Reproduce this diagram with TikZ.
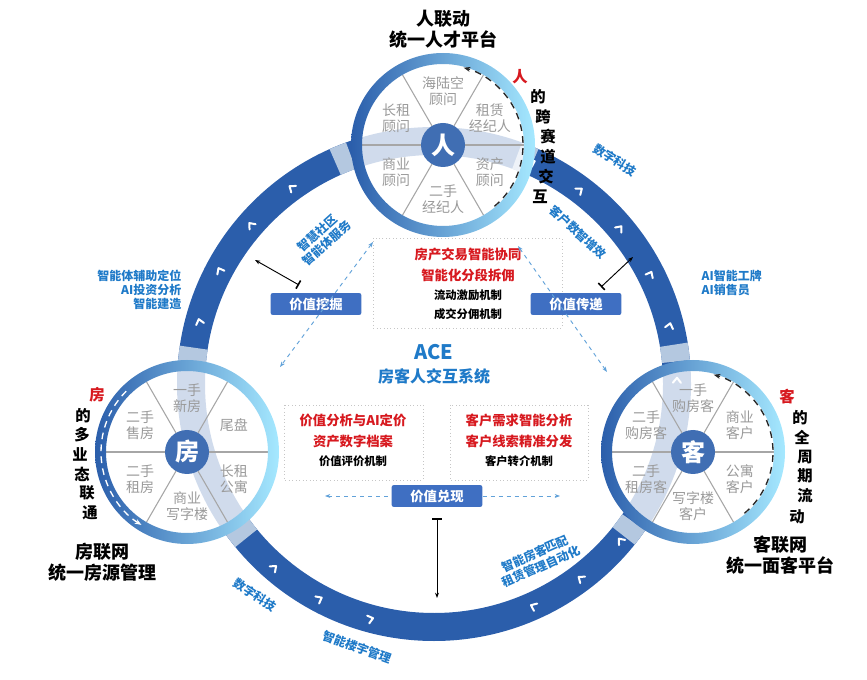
\documentclass[tikz,border=0pt]{standalone}
\usepackage{fontspec}
\setmainfont{Noto Sans CJK SC}
\usetikzlibrary{arrows.meta,calc}
\definecolor{ringblue}{HTML}{2B5EAB}
\definecolor{lightring}{HTML}{B4C8E0}
\definecolor{txtblue}{HTML}{1F7AC8}
\definecolor{segtxt}{HTML}{9A9A9A}
\definecolor{redt}{HTML}{D7191F}
\definecolor{boxblue}{HTML}{3F6FC2}
\tikzset{
 seg/.style={text=segtxt,font=\fontsize{10.5}{12}\selectfont,align=center},
 head/.style={font=\bfseries\fontsize{13.5}{16}\selectfont,align=center},
 redl/.style={text=redt,font=\bfseries\fontsize{10}{12}\selectfont},
 blkl/.style={text=black,font=\bfseries\fontsize{8.5}{10}\selectfont},
 bluel/.style={text=txtblue,font=\bfseries\fontsize{9}{10.5}\selectfont,align=center},
 vbox/.style={fill=boxblue,text=white,font=\bfseries\fontsize{10}{12}\selectfont,minimum width=68pt,minimum height=16pt,rounded corners=1.5pt},
 dotbox/.style={draw=gray!45,dotted,line width=0.6pt},
 dashl/.style={draw=txtblue!70,dashed,line width=0.7pt},
 dblarr/.style={dashl,{Stealth[length=4pt]}-{Stealth[length=4pt]}},
 tbar/.style={draw=black,line width=0.7pt,{Stealth[length=4pt]}-{Bar[width=7pt,line width=1.2pt]}},
 chev/.style={draw=white,line width=1.5pt,line cap=round,line join=round},
 vt/.style={font=\bfseries\fontsize{11.5}{13}\selectfont},
}
\begin{document}
\begin{tikzpicture}[x=0.75pt,y=-0.75pt]
\useasboundingbox (0,0) rectangle (867,680);
\coordinate (C) at (434,384);
\draw[ringblue,line width=21pt] (C) circle (243);
\foreach \a in {270,164.6,14.7}{
  \draw[lightring,line width=21pt] (C) ++(\a+20:243) arc[start angle=\a+20,end angle=\a+24,radius=243];
  \draw[lightring,line width=21pt] (C) ++(\a-20:243) arc[start angle=\a-20,end angle=\a-24,radius=243];
}
\foreach \a/\d in {195/1,208/1,221/1,234/1,294/-1,307/-1,320/-1,333/-1,346/-1,359/-1,
                   40/-1,53/-1,66/-1,105/1,118/1,131/1}{
  \begin{scope}[shift={($(C)+(\a:243)$)},rotate=\a]
   \draw[chev] (-4,-3*\d) -- (0,2*\d) -- (4,-3*\d);
  \end{scope}
}
\foreach \n/\x/\y/\hub in {P/443/145/人,F/187/452/房,K/693/452/客}{
  \coordinate (\n) at (\x,\y);
  \fill[white,opacity=0.78] (\n) circle (82);
  \foreach \l in {0,60,...,300} \draw[gray!70,line width=0.8pt] (\n) -- ++(\l:81);
  \shade[left color=ringblue,right color=blue!25!cyan!35,even odd rule] (\n) circle (92) (\n) circle (81);
  \node[circle,fill=ringblue!90,minimum size=33pt,inner sep=0pt,text=white,font=\bfseries\fontsize{18}{18}\selectfont] (\n hub) at (\n) {\hub};
}
\foreach \a/\t in {270/{海陆空\\顾问},330/{租赁\\经纪人},30/{资产\\顾问},90/{二手\\经纪人},150/{商业\\顾问},210/{长租\\顾问}}
  \node[seg] at ($(P)+(\a:54)$) {\t};
\foreach \a/\t in {270/{一手\\新房},330/{尾盘},30/{长租\\公寓},90/{商业\\写字楼},150/{二手\\租房},210/{二手\\售房}}
  \node[seg] at ($(F)+(\a:54)$) {\t};
\foreach \a/\t in {270/{一手\\购房客},330/{商业\\客户},30/{公寓\\客户},90/{写字楼\\客户},150/{二手\\租房客},210/{二手\\购房客}}
  \node[seg] at ($(K)+(\a:54)$) {\t};
\draw[gray!30!black,line width=1pt,dash pattern=on 5pt off 4pt,-{Stealth[length=5pt]}] (P) ++(50:80) arc[start angle=50,end angle=-75,radius=80];
\draw[gray!30!black,line width=1pt,dash pattern=on 5pt off 4pt,-{Stealth[length=5pt]}] (K) ++(50:80) arc[start angle=50,end angle=-75,radius=80];
\draw[white,line width=1pt,dash pattern=on 5pt off 4pt,-{Stealth[length=5pt]}] (F) ++(225:86) arc[start angle=225,end angle=122,radius=86];
\node[head] (hP) at (443,29) {人联动\\统一人才平台};
\node[head] (hF) at (102,562) {房联网\\统一房源管理};
\node[head] (hK) at (780,555) {客联网\\统一面客平台};
\node[vt,text=redt] at (520,77) {人};
\foreach \x/\y/\c in {538/97/的,543/117/跨,548/137/赛,548/157/道,546/177/交,540/197/互} \node[vt] at (\x,\y) {\c};
\node[vt,text=redt] at (787,397) {客};
\foreach \x/\y/\c in {800/418/的,802/437/全,805/457/周,805/476/期,805/496/流,797/517/动} \node[vt] at (\x,\y) {\c};
\node[vt,text=redt] at (97,395) {房};
\foreach \x/\y/\c in {83/416/的,82/435/多,80/454/业,82/474/态,87/493/联,90/513/通} \node[vt] at (\x,\y) {\c};
\node[bluel,rotate=42] at (322,238) {智慧社区\\智能体服务};
\node[bluel,rotate=-32] at (615,160) {数字科技};
\node[bluel,rotate=-42] at (578,232) {客户数智增效};
\node[bluel,align=right,anchor=east] at (186,290) {智能体辅助定位\\AI投资分析\\智能建造};
\node[bluel,align=left,anchor=west] at (697,283) {AI智能工牌\\AI销售员};
\node[bluel,rotate=-33] at (255,595) {数字科技};
\node[bluel,rotate=-20] at (357,647) {智能楼宇管理};
\node[bluel,rotate=24] at (538,560) {智能房客匹配\\租赁管理自动化};
\draw[dotbox] (373,238) rectangle (562,328);
\node[redl] at (468,254) {房产交易智能协同};
\node[redl] at (468,275) {智能化分段拆佣};
\node[blkl] at (468,295) {流动激励机制};
\node[blkl] at (468,314) {成交分佣机制};
\node[text=txtblue,font=\bfseries\fontsize{15}{16}\selectfont] at (434,352) {ACE};
\node[text=txtblue,font=\bfseries\fontsize{12}{14}\selectfont] at (434,376) {房客人交互系统};
\draw[dotbox] (284,405) rectangle (423,480);
\node[redl] at (353,420) {价值分析与AI定价};
\node[redl] at (353,441) {资产数字档案};
\node[blkl] at (353,461) {价值评价机制};
\draw[dotbox] (450,405) rectangle (588,480);
\node[redl] at (519,420) {客户需求智能分析};
\node[redl] at (519,441) {客户线索精准分发};
\node[blkl] at (519,461) {客户转介机制};
\node[vbox] (v1) at (316,304) {价值挖掘};
\node[vbox] (v2) at (576,304) {价值传递};
\node[vbox] (v3) at (437,496) {价值兑现};
\coordinate (d1a) at (373,242); \coordinate (d1b) at (280,367);
\coordinate (d2a) at (518,246); \coordinate (d2b) at (607,372);
\coordinate (d3a) at (325,496); \coordinate (d3b) at (560,496);
\draw[dblarr] (d1a) -- (d1b);
\draw[dblarr] (d2a) -- (d2b);
\draw[dashl,{Stealth[length=4pt]}-] (d3a) -- (v3.west);
\draw[dashl,-{Stealth[length=4pt]}] (v3.east) -- (d3b);
\coordinate (t1) at (255,260); \coordinate (t1b) at (299,285);
\coordinate (t2) at (633,257); \coordinate (t2b) at (601,287);
\coordinate (t3) at (437,598); \coordinate (t3b) at (437,518);
\draw[tbar] (t1) -- (t1b);
\draw[tbar] (t2) -- (t2b);
\draw[tbar] (t3) -- (t3b);
\end{tikzpicture}
\end{document}
